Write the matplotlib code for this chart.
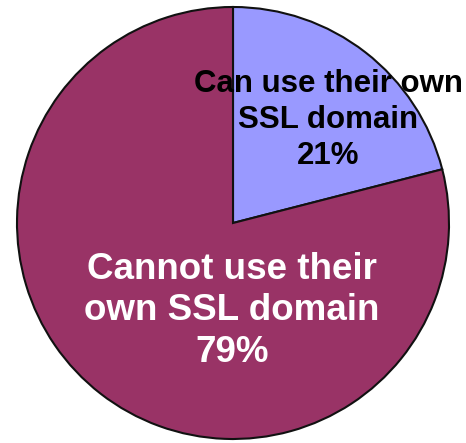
import matplotlib.pyplot as plt

labels = ["Can use their own\nSSL domain", "Cannot use their\nown SSL domain"]
shares = [21, 79]
colors = ["#9999FF", "#993366"]
text_colors = ["black", "white"]

W, H = 466, 443
fig = plt.figure(figsize=(W / 100, H / 100), dpi=100)
ax = fig.add_axes([0, 0, 1, 1])

wedges, _ = ax.pie(
    shares,
    colors=colors,
    startangle=90,
    counterclock=False,
    center=(233, H - 223),
    radius=216,
    frame=True,
    wedgeprops=dict(edgecolor="#111111", linewidth=1.5),
)
ax.set_xlim(0, W)
ax.set_ylim(0, H)
ax.axis("off")

# label positions (pixel coords from top-left) and sizes
label_pos = [(328, 120), (232, 311)]
label_size = [22.5, 26.5]
for lab, val, (x, y), fs, tc in zip(labels, shares, label_pos, label_size, text_colors):
    ax.text(x, H - y, f"{lab}\n{val}%", ha="center", va="center",
            fontsize=fs, fontweight="bold", color=tc,
            family="Liberation Sans", linespacing=1.25)

fig.savefig("out.png", dpi=100)
